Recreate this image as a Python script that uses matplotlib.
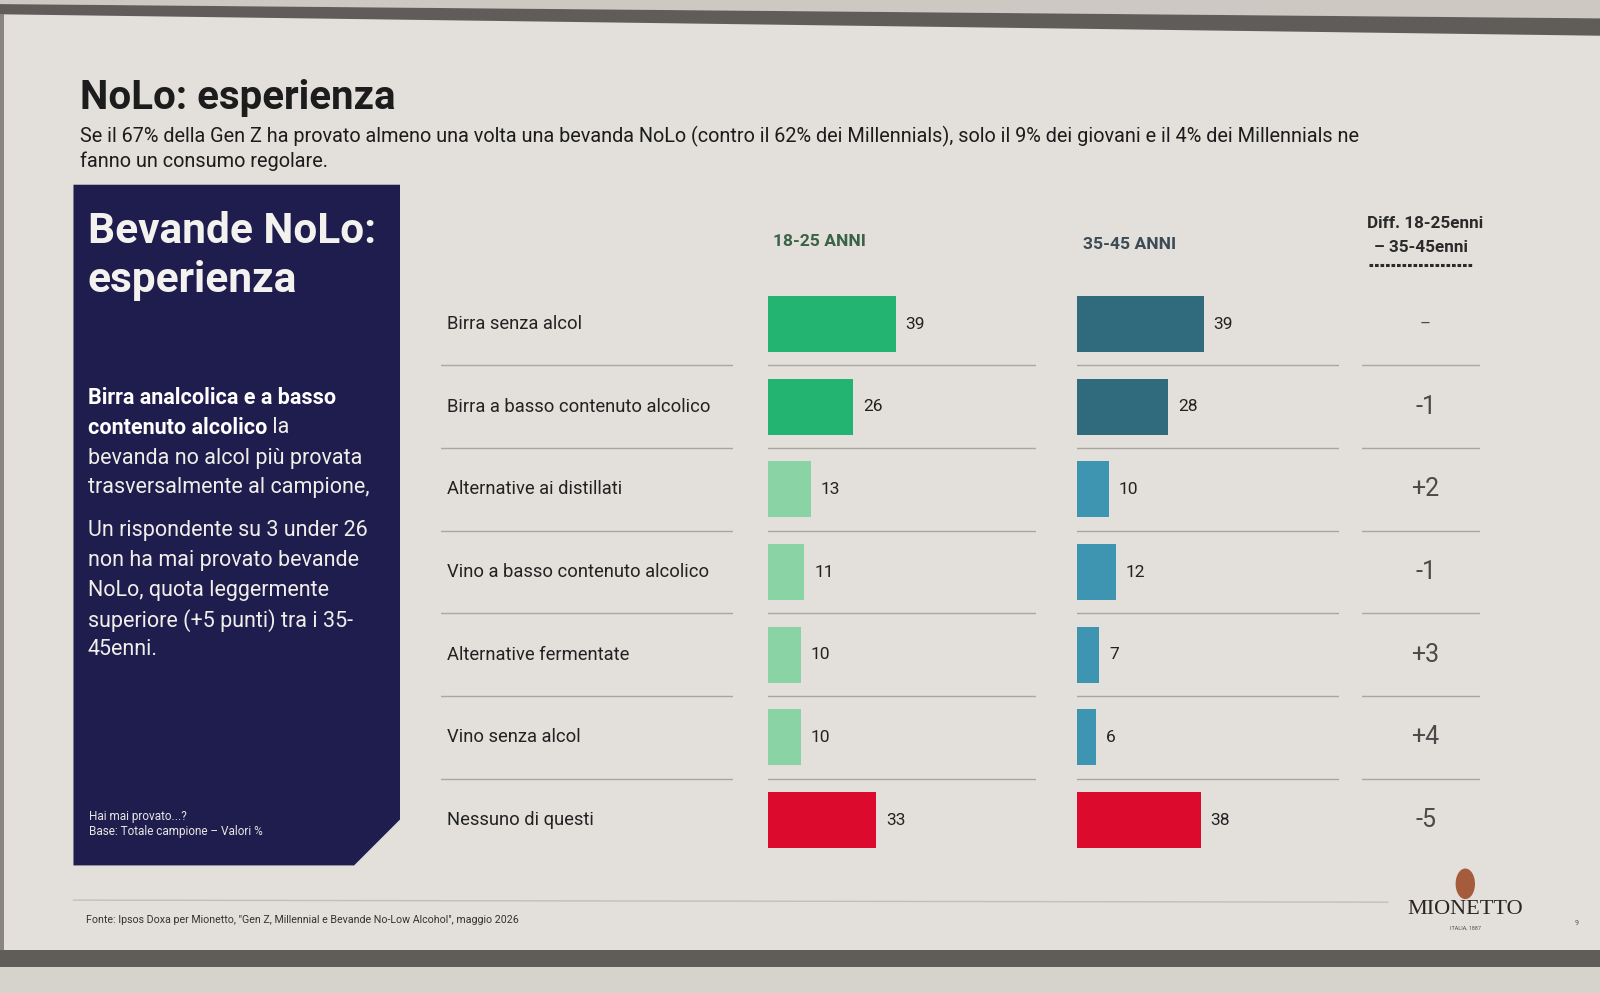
import matplotlib
matplotlib.use('Agg')
import matplotlib.pyplot as plt
from matplotlib.patches import Polygon, Rectangle, Ellipse

plt.rcParams['font.family'] = ['Roboto', 'DejaVu Sans']

# Data
categories = ['Birra senza alcol', 'Birra a basso contenuto alcolico', 'Alternative ai distillati',
              'Vino a basso contenuto alcolico', 'Alternative fermentate', 'Vino senza alcol',
              'Nessuno di questi']
values_1825 = [39, 26, 13, 11, 10, 10, 33]
values_3545 = [39, 28, 10, 12, 7, 6, 38]
diff_labels = ['–', '-1', '+2', '-1', '+3', '+4', '-5']

colors_1825 = ['#23b472', '#23b472', '#8ad3a5', '#8ad3a5', '#8ad3a5', '#8ad3a5', '#dc0a2d']
colors_3545 = ['#2f6b7d', '#2f6b7d', '#3e95b1', '#3e95b1', '#3e95b1', '#3e95b1', '#dc0a2d']

W, H = 1568, 973
BG = '#e3e0db'
NAVY = '#1f1d4e'
DARK = '#1c1c1c'
LINE = '#aaa6a1'

fig = plt.figure(figsize=(16, 9.93), dpi=100, facecolor=BG)

# full-figure axes in reference pixel coordinates for the decorations
bg = fig.add_axes([0, 0, 1, 1])
bg.set_xlim(0, W)
bg.set_ylim(H, 0)
bg.axis('off')

# photo frame: monitor edges
bg.add_patch(Polygon([(0, 0), (W, 0), (W, 18), (0, 4)], closed=True, color='#cdc8c2', lw=0))
bg.add_patch(Polygon([(0, 4), (W, 18), (W, 35), (0, 14)], closed=True, color='#5f5c59', lw=0))
bg.add_patch(Rectangle((0, 931), W, 17, color='#5f5c59', lw=0))
bg.add_patch(Rectangle((0, 948), W, 25, color='#d6d2cc', lw=0))
bg.add_patch(Rectangle((0, 14), 4, 917, color='#8a8580', lw=0))

# title and subtitle
bg.text(78, 96, 'NoLo: esperienza', fontsize=29, fontweight='bold', color=DARK, va='center')
bg.text(78, 134, 'Se il 67% della Gen Z ha provato almeno una volta una bevanda NoLo (contro il 62% dei '
        'Millennials), solo il 9% dei giovani e il 4% dei Millennials ne', fontsize=14.3, color=DARK,
        va='center')
bg.text(78, 158, 'fanno un consumo regolare.', fontsize=14.3, color=DARK, va='center')

# navy side panel with clipped corner
bg.add_patch(Polygon([(72, 181), (392, 181), (392, 803), (347, 848), (72, 848)], closed=True,
                     color=NAVY, lw=0))
bg.text(86, 227, 'Bevande NoLo:', fontsize=30.5, fontweight='bold', color='#f4f2ee', va='center')
bg.text(86, 275, 'esperienza', fontsize=30.5, fontweight='bold', color='#f4f2ee', va='center')

body_fs = 15.5
bg.text(86, 390, 'Birra analcolica e a basso', fontsize=body_fs, fontweight='bold', color='white',
        va='center')
t = bg.text(86, 419, 'contenuto alcolico', fontsize=body_fs, fontweight='bold', color='white',
            va='center')
bg.annotate(' la', xy=(1, 0.5), xycoords=t, fontsize=body_fs, color='#f0eee9', va='center')
body_lines = [(449, 'bevanda no alcol più provata'), (478, 'trasversalmente al campione,'),
              (520, 'Un rispondente su 3 under 26'), (549, 'non ha mai provato bevande'),
              (579, 'NoLo, quota leggermente'), (608, 'superiore (+5 punti) tra i 35-'),
              (636, '45enni.')]
for y, s in body_lines:
    bg.text(86, y, s, fontsize=body_fs, color='#f0eee9', va='center')
bg.text(87, 800, 'Hai mai provato...?', fontsize=8.5, color='#e8e6e2', va='center')
bg.text(87, 815, 'Base: Totale campione – Valori %', fontsize=8.5, color='#e8e6e2', va='center')

# column headers
bg.text(803, 237, '18-25 ANNI', fontsize=12.6, fontweight='bold', color='#3b6247', ha='center',
        va='center')
bg.text(1107, 240, '35-45 ANNI', fontsize=12.6, fontweight='bold', color='#3c4b56', ha='center',
        va='center')
bg.text(1397, 219, 'Diff. 18-25enni', fontsize=12.3, fontweight='bold', color='#2a2a2a', ha='center',
        va='center')
bg.text(1393, 243, '– 35-45enni', fontsize=12.3, fontweight='bold', color='#2a2a2a', ha='center',
        va='center')
bg.plot([1342, 1444], [260, 260], color='#2a2a2a', lw=2.2, ls=(0, (1.2, 0.6)))

# row layout shared by the table columns
top, bottom = 277, 844
n = len(categories)
rows = list(range(n))


def column_axes(x0, x1):
    ax = fig.add_axes([x0 / W, 1 - bottom / H, (x1 - x0) / W, (bottom - top) / H])
    ax.set_ylim(n - 0.5, -0.5)
    ax.axis('off')
    ax.patch.set_alpha(0)
    for i in rows[:-1]:
        ax.axhline(i + 0.5, color=LINE, lw=1)
    return ax


px_per_unit = 3.2

# category labels
ax_lab = column_axes(432, 718)
ax_lab.set_xlim(0, 1)
for i, c in enumerate(categories):
    ax_lab.text(0.02, i, c, fontsize=13.2, color='#222222', va='center')

# 18-25 bars
ax1 = column_axes(753, 1015)
ax1.set_xlim(0, (1015 - 753) / px_per_unit)
ax1.barh(rows, values_1825, height=0.68, color=colors_1825)
for i, v in enumerate(values_1825):
    ax1.text(v + 3, i, str(v), fontsize=12.5, color='#222222', va='center')

# 35-45 bars
ax2 = column_axes(1055, 1312)
ax2.set_xlim(0, (1312 - 1055) / px_per_unit)
ax2.barh(rows, values_3545, height=0.68, color=colors_3545)
for i, v in enumerate(values_3545):
    ax2.text(v + 3, i, str(v), fontsize=12.5, color='#222222', va='center')

# difference column
ax3 = column_axes(1335, 1450)
ax3.set_xlim(0, 1)
for i, d in enumerate(diff_labels):
    ax3.text(0.54, i, d, fontsize=18 if d != '–' else 12, color='#4a4a4a', ha='center',
             va='center')

# footer
bg.plot([72, 1360], [882, 884], color='#c2beb8', lw=1)
bg.text(84, 901, 'Fonte: Ipsos Doxa per Mionetto, "Gen Z, Millennial e Bevande No-Low Alcohol", '
        'maggio 2026', fontsize=7.7, color='#333333', va='center')

# logo
bg.add_patch(Ellipse((1436, 866), 19, 30, color='#a45c3c', lw=0))
bg.text(1436, 891, 'MIONETTO', family='Liberation Serif', fontsize=16, color='#2a2522',
        ha='center', va='center')
bg.text(1436, 909, 'ITALIA, 1887', fontsize=4, color='#555555', ha='center', va='center')
bg.text(1545, 905, '9', fontsize=5, color='#555555', ha='center', va='center')

fig.savefig('out.png', dpi=100, facecolor=BG)
